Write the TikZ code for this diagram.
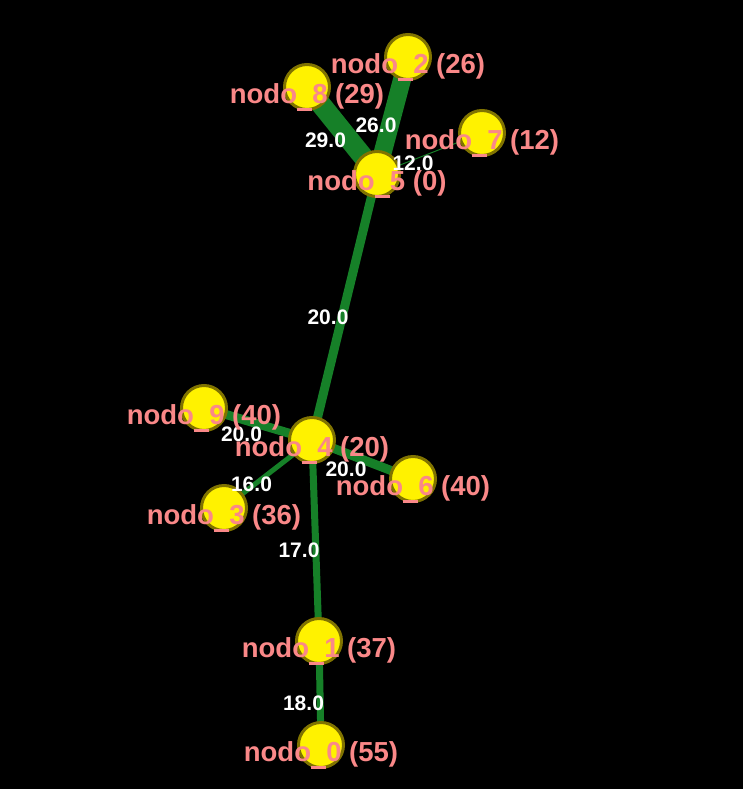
\documentclass[tikz,border=0pt]{standalone}
\usepackage{fontspec}
\setmainfont{Liberation Sans}
\definecolor{edgegreen}{RGB}{22,128,40}
\definecolor{nodoborder}{RGB}{128,115,0}
\definecolor{nodopink}{RGB}{250,136,136}
\newcommand{\usc}{\rule[-0.26em]{0.556em}{0.11em}}
\pgfdeclarelayer{back}
\pgfsetlayers{back,main}
\begin{document}
\begin{tikzpicture}[x=1pt,y=-1pt,
    nodo/.style={circle,fill=yellow,draw=nodoborder,line width=3pt,minimum size=45pt,inner sep=0pt},
    edge/.style={draw=edgegreen},
    nlbl/.style={text=nodopink,font=\bfseries\fontsize{27.5}{28}\selectfont,inner sep=0pt,yshift=-10pt},
    wlbl/.style={text=white,font=\bfseries\fontsize{21}{21}\selectfont,inner sep=0pt,xshift=-16.5pt,yshift=-10pt}]
    \useasboundingbox (0,0) rectangle (743,789);
    \begin{pgfonlayer}{back}
        \fill[black] (0,0) rectangle (743,789); %background
    \end{pgfonlayer}

    % nodes
    \foreach \n/\x/\y in {0/321/745, 1/319/641, 2/408/57, 3/224/508, 4/312/440,
                          5/377/174, 6/413/479, 7/482/133, 8/307/87, 9/204/408}
        \node[nodo] (n\n) at (\x,\y) {};

    % edges: from/to/weight/width
    \foreach \a/\b/\w/\lw in {8/5/29.0/20, 2/5/26.0/18, 7/5/12.0/1, 5/4/20.0/9,
                              9/4/20.0/9, 4/6/20.0/9, 3/4/16.0/5, 4/1/17.0/7, 1/0/18.0/7}
    {
        \begin{pgfonlayer}{back}
            \draw[edge,line width=\lw pt] (n\a.center) -- (n\b.center);
        \end{pgfonlayer}
        \path (n\a.center) -- (n\b.center) node[wlbl,pos=.5] {\w};
    }

    % labels
    \foreach \n/\v in {0/55, 1/37, 2/26, 3/36, 4/20, 5/0, 6/40, 7/12, 8/29, 9/40}
        \node[nlbl] at (n\n) {nodo\usc\n{} (\v)};
\end{tikzpicture}
\end{document}
